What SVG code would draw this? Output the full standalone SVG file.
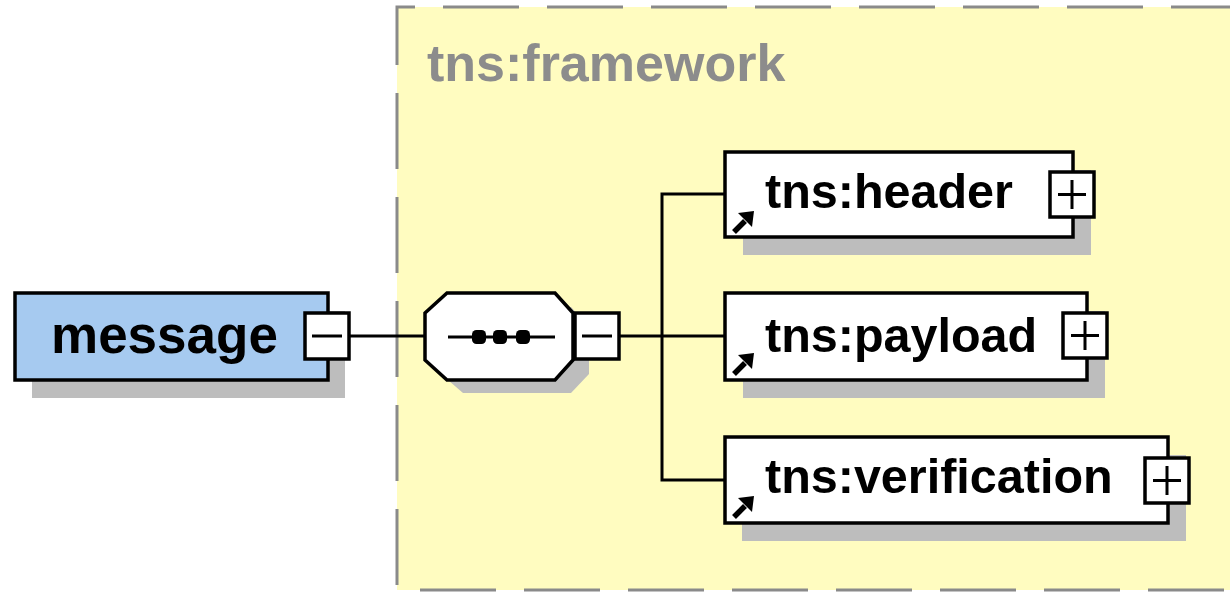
<svg xmlns="http://www.w3.org/2000/svg" width="1230" height="592" viewBox="0 0 1230 592">
  <style>
    .label { font-family: "Liberation Sans", Arial, sans-serif; font-weight: bold; font-size: 48.5px; fill: #000; }
    .root-label { font-size: 53px; }
    .group-label { font-family: "Liberation Sans", Arial, sans-serif; font-weight: bold; font-size: 52px; fill: #8c8c8c; }
    .box { stroke: #000; stroke-width: 3.5; }
    .shadow { fill: #bdbdbd; stroke: none; }
    .toggle { fill: #fff; stroke: #000; stroke-width: 3.5; }
    .sign { stroke: #000; stroke-width: 3; fill: none; }
    .wire { stroke: #000; stroke-width: 3; fill: none; }
  </style>
  <defs>
    <!-- reference arrow shown in the lower-left corner of element boxes -->
    <g id="ref-arrow">
      <path d="M1,22 L12,11" stroke="#000" stroke-width="5.5" fill="none"/>
      <polygon points="21,1 5,3 19,17" fill="#000"/>
    </g>
    <!-- expand toggle -->
    <g id="plus">
      <rect class="toggle" x="0" y="0" width="44" height="45"/>
      <path class="sign" d="M8,22.5 H36 M22,8 V37"/>
    </g>
    <!-- collapse toggle -->
    <g id="minus">
      <rect class="toggle" x="0" y="0" width="44" height="46"/>
      <path class="sign" d="M7,23 H37"/>
    </g>
  </defs>

  <rect x="0" y="0" width="1230" height="592" fill="#fff"/>

  <!-- complex type group: tns:framework -->
  <g id="framework">
    <rect x="397" y="7" width="860" height="583" fill="#fffcc0"/>
    <path d="M1240,590 H397 V7 H1240" fill="none" stroke="#8a8a8a" stroke-width="3" stroke-dasharray="76 28" stroke-dashoffset="88"/>
    <text class="group-label" x="427" y="81">tns:framework</text>
  </g>

  <!-- connectors -->
  <g id="connectors">
    <path class="wire" d="M350,336 H425"/>
    <path class="wire" d="M619,336 H725"/>
    <path class="wire" d="M725,194 H662 V480 H725"/>
  </g>

  <!-- root element -->
  <g id="message">
    <rect class="shadow" x="32" y="311" width="313" height="87"/>
    <rect class="box" x="15" y="293" width="313" height="87" fill="#a6caf0"/>
    <text class="label root-label" x="51" y="353">message</text>
    <use href="#minus" x="305" y="313"/>
  </g>

  <!-- sequence compositor -->
  <g id="sequence">
    <polygon class="shadow" points="463,307 571,307 589,327 589,374 571,393 463,393 441,374 441,327"/>
    <polygon class="box" fill="#fff" points="447,293 555,293 573,313 573,360 555,380 447,380 425,360 425,313"/>
    <path d="M448,337 H555" stroke="#000" stroke-width="3"/>
    <rect x="472" y="330" width="14" height="14" rx="4.5" fill="#000"/>
    <rect x="493" y="330" width="14" height="14" rx="4.5" fill="#000"/>
    <rect x="516" y="330" width="14" height="14" rx="4.5" fill="#000"/>
    <use href="#minus" x="575" y="313"/>
  </g>

  <!-- child element: header -->
  <g id="header">
    <rect class="shadow" x="743" y="170" width="348" height="85"/>
    <rect class="box" x="725" y="152" width="348" height="85" fill="#fff"/>
    <use href="#ref-arrow" x="733" y="210"/>
    <text class="label" x="765" y="208">tns:header</text>
    <use href="#plus" x="1050" y="172"/>
  </g>

  <!-- child element: payload -->
  <g id="payload">
    <rect class="shadow" x="743" y="311" width="362" height="87"/>
    <rect class="box" x="725" y="293" width="362" height="87" fill="#fff"/>
    <use href="#ref-arrow" x="733" y="352"/>
    <text class="label" x="765" y="352">tns:payload</text>
    <use href="#plus" x="1063" y="313"/>
  </g>

  <!-- child element: verification -->
  <g id="verification">
    <rect class="shadow" x="742" y="455" width="444" height="86"/>
    <rect class="box" x="725" y="437" width="443" height="86" fill="#fff"/>
    <use href="#ref-arrow" x="733" y="495"/>
    <text class="label" x="765" y="493">tns:verification</text>
    <use href="#plus" x="1145" y="458"/>
  </g>
</svg>
